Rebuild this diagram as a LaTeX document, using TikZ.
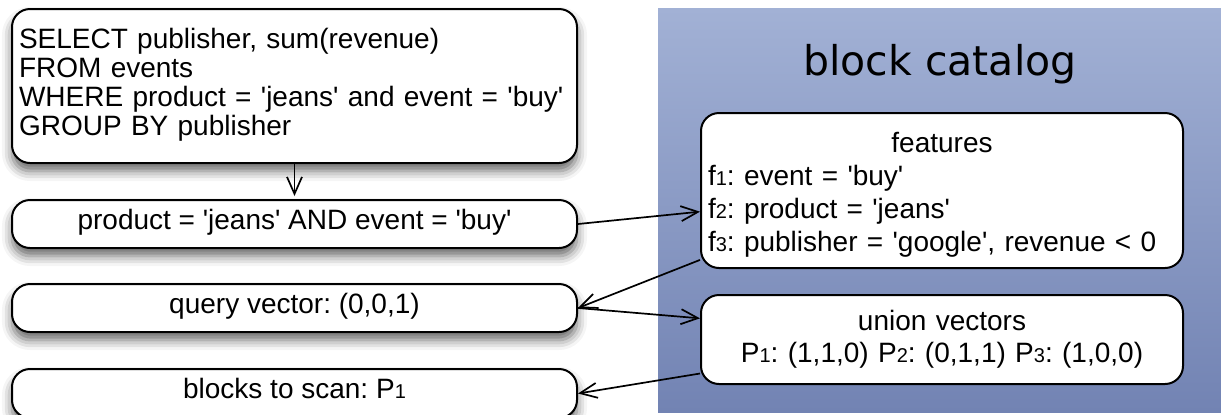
\documentclass[tikz,border=0pt]{standalone}
\usepackage{fontspec}
\newfontfamily\diagfont{Liberation Sans}
\newfontfamily\titlefont{DejaVu Sans}
\usetikzlibrary{positioning,arrows.meta,shadows.blur}

\definecolor{catalogtop}{RGB}{162,177,213}
\definecolor{catalogbottom}{RGB}{114,131,179}

\newcommand{\smallidx}[1]{{\fontsize{10pt}{10pt}\selectfont #1}}

\begin{document}
\begin{tikzpicture}[x=0.5pt, y=-0.5pt, node distance=17.5pt,
  every node/.style={font=\diagfont\fontsize{14pt}{14.5pt}\selectfont\frenchspacing},
  box/.style={draw, line width=1pt, rounded corners=9pt, fill=white, inner xsep=3.5pt, inner ysep=0pt},
  leftbox/.style={box, minimum width=282.5pt, blur shadow={shadow xshift=0pt, shadow yshift=-4pt, shadow blur radius=5pt, shadow opacity=60}},
  linebox/.style={leftbox, minimum height=24pt, text height=0.75em, text depth=0.22em},
  flow/.style={line width=0.85pt, -{Straight Barb[length=8.5pt,width=7.5pt]}}]

\useasboundingbox (0,0) rectangle (1221,414);

% block catalog
\fill[top color=catalogtop, bottom color=catalogbottom] (658,8) rectangle (1221,412);
\node[font=\titlefont\fontsize{20.5pt}{20.5pt}\selectfont, anchor=base] (title) at (940,75) {block catalog};

\node[box, text width=234pt, minimum height=77.5pt, align=left,
      font=\diagfont\fontsize{14pt}{16.5pt}\selectfont\frenchspacing] (features) at (942,190.5)
  {\makebox[\linewidth]{features\rule{0pt}{14pt}}\\
   f\smallidx{1}: event = 'buy'\\
   f\smallidx{2}: product = 'jeans'\\
   f\smallidx{3}: publisher = 'google', revenue < 0};
\node[box, text width=234pt, minimum height=44.5pt, align=center,
      font=\diagfont\fontsize{14pt}{16pt}\selectfont\frenchspacing] (union) [below=12.5pt of features]
  {union vectors\\
   P\smallidx{1}: (1,1,0) P\smallidx{2}: (0,1,1) P\smallidx{3}: (1,0,0)};

% query side
\node[leftbox, text width=275.5pt, minimum height=77pt, align=left] (query) at (294.5,86)
  {SELECT publisher, sum(revenue)\\
   FROM events\\
   WHERE product = 'jeans' and event = 'buy'\\
   GROUP BY publisher\rule[-4pt]{0pt}{0pt}};
\node[linebox] (pred) [below=of query] {product = 'jeans' AND event = 'buy'};
\node[linebox] (qvec) [below=17pt of pred] {query vector: (0,0,1)};
\node[linebox, minimum height=24.5pt] (blocks) [below=of qvec] {blocks to scan: P\smallidx{1}};

\draw[flow, shorten >=1.5pt] (query) -- (pred);
\draw[flow] (pred.east) -- (features.185);
\draw[flow] (features.196) -- (qvec.east);
\draw[flow] (qvec.east) -- (union.175);
\draw[flow] (union.188) -- (blocks.east);

\end{tikzpicture}
\end{document}
